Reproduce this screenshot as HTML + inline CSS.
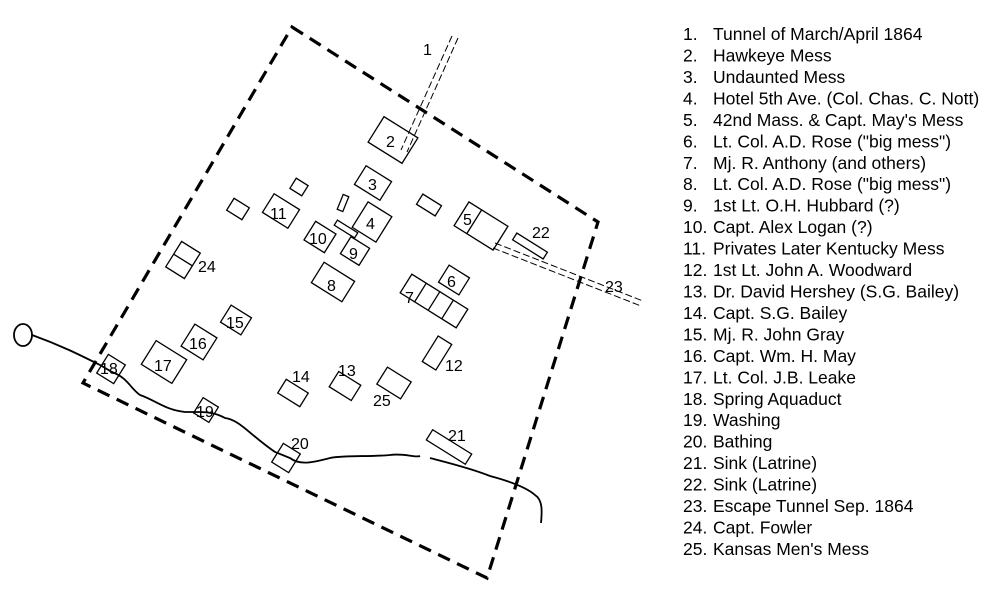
<!DOCTYPE html>
<html><head><meta charset="utf-8"><style>
body{margin:0;background:#fff;}
svg{display:block}
text{font-family:"Liberation Sans",Arial,sans-serif;fill:#000}
</style></head><body>
<svg width="1000" height="593" viewBox="0 0 1000 593" xmlns="http://www.w3.org/2000/svg">
<g fill="none" stroke="#000">
<polygon points="292,27 598,222 487,578 83,383" stroke-width="3.2" stroke-dasharray="13,8"/>
<g stroke-width="1" stroke-dasharray="7,3">
<line x1="452" y1="36" x2="401" y2="150"/>
<line x1="458" y1="38" x2="407" y2="152"/>
<line x1="495" y1="243" x2="643" y2="301"/>
<line x1="493" y1="248" x2="641" y2="306"/>
</g>
<ellipse cx="23" cy="335" rx="9" ry="11" stroke-width="1.8"/>
<path d="M32,335 C60,345 80,355 100,365 L112,372 C128,378 130,388 140,395 C155,400 165,410 185,412 L200,412 C210,412 218,414 225,418 C240,420 250,435 275,452 L290,458 C300,466 315,462 330,458 C345,455 370,457 390,455 C405,453 415,458 420,456 M430,458 C445,462 470,468 490,476 C505,480 525,486 535,495 C543,500 542,512 541,523" stroke-width="1.8"/>
<g stroke-width="1.3">
<rect x="-20" y="-15" width="40" height="30" transform="translate(393,140) rotate(32)"/>
<rect x="-15" y="-11" width="30" height="22" transform="translate(373,183) rotate(32)"/>
<rect x="-7" y="-6" width="14" height="12" transform="translate(299,187) rotate(32)"/>
<rect x="-9" y="-7" width="18" height="14" transform="translate(238,209) rotate(32)"/>
<rect x="-15" y="-11" width="30" height="22" transform="translate(281,211) rotate(32)"/>
<rect x="-3" y="-8" width="6" height="16" transform="translate(343,203) rotate(22)"/>
<rect x="-14" y="-15" width="28" height="30" transform="translate(372,222) rotate(32)"/>
<rect x="-12" y="-3" width="24" height="6" transform="translate(346,229) rotate(32)"/>
<rect x="-12" y="-11" width="24" height="22" transform="translate(320,237) rotate(32)"/>
<rect x="-11" y="-10" width="22" height="20" transform="translate(355,251) rotate(32)"/>
<rect x="-18" y="-12" width="36" height="24" transform="translate(333,282) rotate(32)"/>
<rect x="-11" y="-6" width="22" height="12" transform="translate(429,205) rotate(32)"/>
<g transform="translate(481,226) rotate(32)"><rect x="-23" y="-14" width="46" height="28"/><line x1="-8" y1="-14" x2="-8" y2="14"/></g>
<rect x="-18" y="-4" width="36" height="8" transform="translate(530,246) rotate(32)"/>
<rect x="-12" y="-10" width="24" height="20" transform="translate(454,280) rotate(32)"/>
<g transform="translate(434,301) rotate(32)"><rect x="-33" y="-11" width="66" height="22"/><line x1="-16" y1="-11" x2="-16" y2="11"/><line x1="0" y1="-11" x2="0" y2="11"/><line x1="16" y1="-11" x2="16" y2="11"/></g>
<rect x="-8" y="-15" width="16" height="30" transform="translate(437,353) rotate(32)"/>
<g transform="translate(183,260) rotate(32)"><rect x="-11" y="-15" width="22" height="30"/><line x1="-11" y1="0" x2="11" y2="0"/></g>
<rect x="-12" y="-10" width="24" height="20" transform="translate(236,320) rotate(32)"/>
<rect x="-13" y="-13" width="26" height="26" transform="translate(199,342) rotate(32)"/>
<rect x="-18" y="-14" width="36" height="28" transform="translate(164,362) rotate(32)"/>
<rect x="-10" y="-11" width="20" height="22" transform="translate(111,369) rotate(32)"/>
<rect x="-13" y="-8" width="26" height="16" transform="translate(293,393) rotate(32)"/>
<rect x="-13" y="-9" width="26" height="18" transform="translate(345,386) rotate(32)"/>
<rect x="-14" y="-10" width="28" height="20" transform="translate(394,383) rotate(32)"/>
<rect x="-9" y="-9" width="18" height="18" transform="translate(206,410) rotate(32)"/>
<rect x="-10" y="-11" width="20" height="22" transform="translate(286,458) rotate(32)"/>
<rect x="-23" y="-6" width="46" height="12" transform="translate(449,447) rotate(32)"/>
</g>
</g>
<g font-size="16">
<text x="423" y="55">1</text>
<text x="386" y="147">2</text>
<text x="368" y="190">3</text>
<text x="366" y="229">4</text>
<text x="463" y="225">5</text>
<text x="447" y="287">6</text>
<text x="405" y="303">7</text>
<text x="327" y="291">8</text>
<text x="349" y="259">9</text>
<text x="309" y="244">10</text>
<text x="270" y="219">11</text>
<text x="445" y="371">12</text>
<text x="338" y="376">13</text>
<text x="292" y="382">14</text>
<text x="226" y="328">15</text>
<text x="189" y="349">16</text>
<text x="154" y="371">17</text>
<text x="100" y="374">18</text>
<text x="196" y="417">19</text>
<text x="291" y="449">20</text>
<text x="448" y="441">21</text>
<text x="532" y="238">22</text>
<text x="605" y="292">23</text>
<text x="198" y="272">24</text>
<text x="373" y="406">25</text>
</g>
<g font-size="17.5">
<text x="683" y="40">1.</text><text x="713" y="40">Tunnel of March/April 1864</text>
<text x="683" y="61.5">2.</text><text x="713" y="61.5">Hawkeye Mess</text>
<text x="683" y="83">3.</text><text x="713" y="83">Undaunted Mess</text>
<text x="683" y="104.4">4.</text><text x="713" y="104.4">Hotel 5th Ave. (Col. Chas. C. Nott)</text>
<text x="683" y="125.9">5.</text><text x="713" y="125.9">42nd Mass. &amp; Capt. May's Mess</text>
<text x="683" y="147.3">6.</text><text x="713" y="147.3">Lt. Col. A.D. Rose ("big mess")</text>
<text x="683" y="168.8">7.</text><text x="713" y="168.8">Mj. R. Anthony (and others)</text>
<text x="683" y="190.2">8.</text><text x="713" y="190.2">Lt. Col. A.D. Rose ("big mess")</text>
<text x="683" y="211.7">9.</text><text x="713" y="211.7">1st Lt. O.H. Hubbard (?)</text>
<text x="683" y="233.1">10.</text><text x="713" y="233.1">Capt. Alex Logan (?)</text>
<text x="683" y="254.6">11.</text><text x="713" y="254.6">Privates Later Kentucky Mess</text>
<text x="683" y="276">12.</text><text x="713" y="276">1st Lt. John A. Woodward</text>
<text x="683" y="297.5">13.</text><text x="713" y="297.5">Dr. David Hershey (S.G. Bailey)</text>
<text x="683" y="319">14.</text><text x="713" y="319">Capt. S.G. Bailey</text>
<text x="683" y="340.4">15.</text><text x="713" y="340.4">Mj. R. John Gray</text>
<text x="683" y="361.9">16.</text><text x="713" y="361.9">Capt. Wm. H. May</text>
<text x="683" y="383.3">17.</text><text x="713" y="383.3">Lt. Col. J.B. Leake</text>
<text x="683" y="404.8">18.</text><text x="713" y="404.8">Spring Aquaduct</text>
<text x="683" y="426.2">19.</text><text x="713" y="426.2">Washing</text>
<text x="683" y="447.7">20.</text><text x="713" y="447.7">Bathing</text>
<text x="683" y="469.1">21.</text><text x="713" y="469.1">Sink (Latrine)</text>
<text x="683" y="490.6">22.</text><text x="713" y="490.6">Sink (Latrine)</text>
<text x="683" y="512">23.</text><text x="713" y="512">Escape Tunnel Sep. 1864</text>
<text x="683" y="533.5">24.</text><text x="713" y="533.5">Capt. Fowler</text>
<text x="683" y="555">25.</text><text x="713" y="555">Kansas Men's Mess</text>
</g>
</svg>
</body></html>
